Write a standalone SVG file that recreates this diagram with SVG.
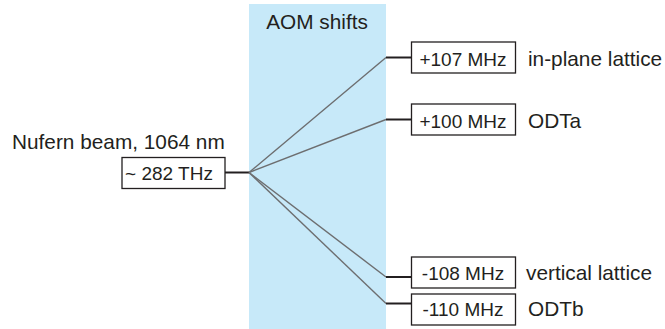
<svg xmlns="http://www.w3.org/2000/svg" width="665" height="329" viewBox="0 0 665 329">
<style>
text{font-family:"Liberation Sans",Arial,sans-serif;font-size:20.8px;fill:#231f20}
.bt{font-size:19px;text-anchor:middle}
.box{fill:#fff;stroke:#231f20;stroke-width:1.3}
.fan{stroke:#6d6e70;stroke-width:1.4;fill:none}
.stub{stroke:#231f20;stroke-width:2;fill:none}
.c{text-anchor:middle}
</style>
<rect x="249" y="4" width="137" height="325" fill="#c7e9f9"/>
<text x="317" y="29" class="c">AOM shifts</text>
<g id="connectors">
<line class="stub" x1="225" y1="172.5" x2="249" y2="172.5"/>
<line class="fan" x1="249" y1="172.5" x2="386" y2="57.5"/>
<line class="fan" x1="249" y1="172.5" x2="386" y2="119.5"/>
<line class="fan" x1="249" y1="172.5" x2="386" y2="277"/>
<line class="fan" x1="249" y1="172.5" x2="386" y2="303.5"/>
<line class="stub" x1="386" y1="57.5" x2="411.5" y2="57.5"/>
<line class="stub" x1="386" y1="119.5" x2="411.5" y2="119.5"/>
<line class="stub" x1="386" y1="277" x2="411.5" y2="277"/>
<line class="stub" x1="386" y1="303.5" x2="411.5" y2="303.5"/>
</g>
<g id="source">
<text x="12" y="149">Nufern beam, 1064 nm</text>
<rect class="box" x="122" y="157.5" width="103" height="31"/>
<text x="169" y="180" class="bt">~ 282 THz</text>
</g>
<g id="inplane">
<rect class="box" x="411.5" y="42" width="104" height="31"/>
<text x="463" y="66" class="bt">+107 MHz</text>
<text x="528" y="66">in-plane lattice</text>
</g>
<g id="odta">
<rect class="box" x="411.5" y="104" width="104" height="31"/>
<text x="463" y="128" class="bt">+100 MHz</text>
<text x="528" y="128">ODTa</text>
</g>
<g id="vertical">
<rect class="box" x="411.5" y="257" width="104" height="31"/>
<text x="463" y="280" class="bt">-108 MHz</text>
<text x="526" y="280">vertical lattice</text>
</g>
<g id="odtb">
<rect class="box" x="411.5" y="294" width="104" height="31"/>
<text x="463" y="316" class="bt">-110 MHz</text>
<text x="528" y="316">ODTb</text>
</g>
</svg>
